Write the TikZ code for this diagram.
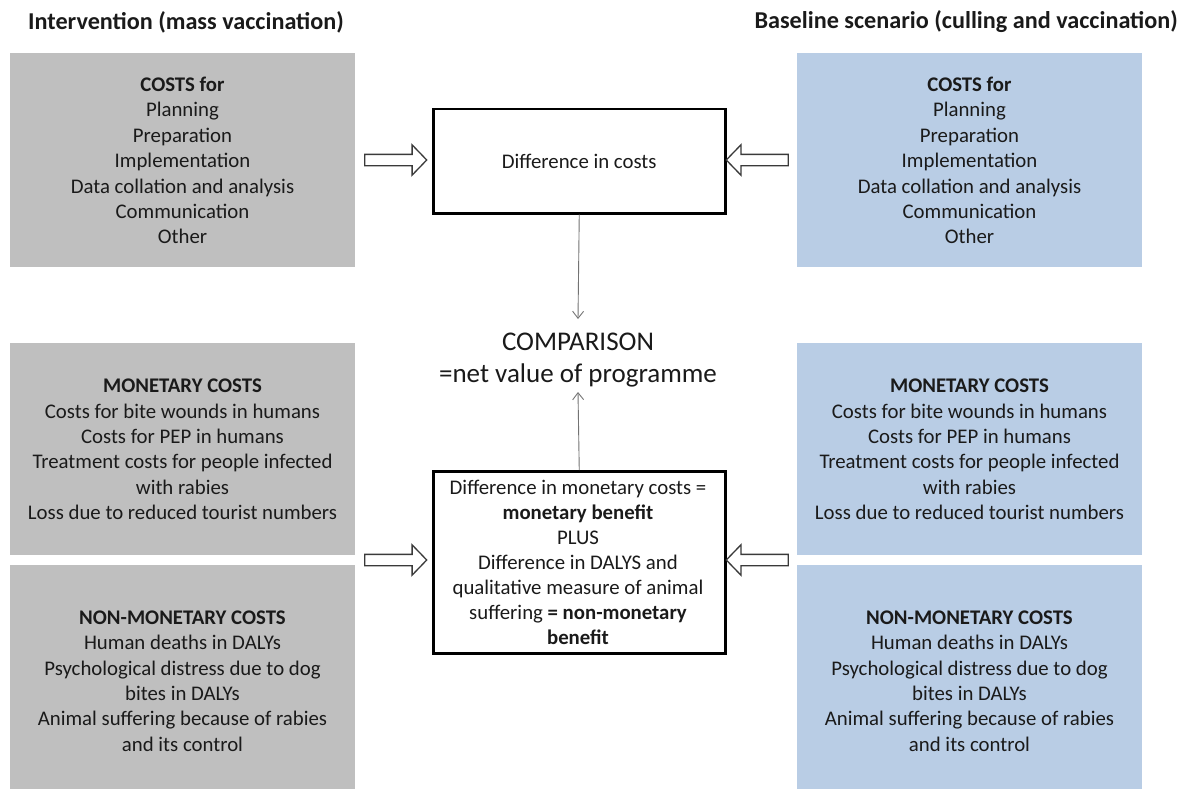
\documentclass[tikz,border=0pt]{standalone}
\usepackage{fontspec}
\setmainfont{Carlito}
\usetikzlibrary{shapes.arrows,arrows.meta}
\definecolor{boxgray}{HTML}{BFBFBF}
\definecolor{boxblue}{HTML}{B9CDE5}
\definecolor{txt}{HTML}{1A1A1A}
\definecolor{arrline}{HTML}{3A3A3A}
\begin{document}
\begin{tikzpicture}[x=1pt,y=-1pt,
  every node/.style={text=txt},
  base/.style={font=\fontsize{20.8}{25.4}\selectfont},
  sidebox/.style={minimum width=345pt,inner sep=0pt,anchor=north west},
  graybox/.style={sidebox,fill=boxgray},
  bluebox/.style={sidebox,fill=boxblue},
  boxtext/.style={base,align=center,inner sep=0pt},
  centerbox/.style={draw=black,line width=2.5pt,minimum width=292pt,inner sep=0pt,anchor=north west,fill=white},
  title/.style={font=\fontsize{24.2}{28}\selectfont\bfseries,inner sep=0pt},
  blockarr/.style={single arrow,draw=arrline,fill=white,line width=1.3pt,
     minimum height=62pt,minimum width=29pt,single arrow head extend=9.5pt,
     single arrow tip angle=92,inner xsep=0pt,inner ysep=5pt},
  thinarr/.style={draw=gray!90!black,line width=0.9pt,-{Straight Barb[length=7pt,width=11pt]}}
]
\useasboundingbox (0,0) rectangle (1188,789);
\fill[white] (0,0) rectangle (1188,789);

% titles
\node[title,anchor=west] (tl) at (28,22) {Intervention (mass vaccination)};
\node[title,anchor=east] (tr) at (1178,22) {Baseline scenario (culling and vaccination)};

% left boxes
\node[graybox,minimum height=214pt] (lt) at (10,53) {};
\node[graybox,minimum height=212pt] (lm) at (10,343) {};
\node[graybox,minimum height=224pt] (lb) at (10,565) {};
% right boxes
\node[bluebox,minimum height=214pt] (rt) at (797,53) {};
\node[bluebox,minimum height=212pt] (rm) at (797,343) {};
\node[bluebox,minimum height=224pt] (rb) at (797,565) {};

% texts
\node[boxtext] (ltt) at (182.5,160.5) {\textbf{COSTS for}\\Planning\\Preparation\\Implementation\\Data collation and analysis\\Communication\\Other};
\node[boxtext] (rtt) at (969.5,160.5) {\textbf{COSTS for}\\Planning\\Preparation\\Implementation\\Data collation and analysis\\Communication\\Other};
\node[boxtext] (lmt) at (182.5,449.5) {\textbf{MONETARY COSTS}\\Costs for bite wounds in humans\\Costs for PEP in humans\\Treatment costs for people infected\\with rabies\\Loss due to reduced tourist numbers};
\node[boxtext] (rmt) at (969.5,449.5) {\textbf{MONETARY COSTS}\\Costs for bite wounds in humans\\Costs for PEP in humans\\Treatment costs for people infected\\with rabies\\Loss due to reduced tourist numbers};
\node[boxtext] (lbt) at (182.5,681) {\textbf{NON-MONETARY COSTS}\\Human deaths in DALYs\\Psychological distress due to dog\\bites in DALYs\\Animal suffering because of rabies\\and its control};
\node[boxtext] (rbt) at (969.5,681) {\textbf{NON-MONETARY COSTS}\\Human deaths in DALYs\\Psychological distress due to dog\\bites in DALYs\\Animal suffering because of rabies\\and its control};

% center boxes
\node[centerbox,minimum height=104pt] (ct) at (432,108) {};
\node[boxtext] (ctt) at (ct.center) {Difference in costs};
\node[centerbox,minimum height=182pt] (cb) at (432,470) {};
\node[boxtext,font=\fontsize{20.8}{25}\selectfont] (cbt) at (578,562.5) {Difference in monetary costs =\\\textbf{monetary benefit}\\PLUS\\Difference in DALYS and\\qualitative measure of animal\\suffering \textbf{= non-monetary}\\\textbf{benefit}};

% comparison
\node[align=center,inner sep=0pt,font=\fontsize{27}{32}\selectfont] (cmp) at (578,360) {COMPARISON\\=net value of programme};

% thin arrows
\coordinate (cmptop) at (578,319);
\coordinate (cmpbot) at (578,392);
\draw[thinarr] (ct.south) -- (cmptop);
\draw[thinarr] (cb.north) -- (cmpbot);

% block arrows
\node[blockarr] (a1) at (393,160) {};
\node[blockarr] (a2) at (393,560) {};
\node[blockarr,shape border rotate=180] (a3) at (760,160) {};
\node[blockarr,shape border rotate=180] (a4) at (760,560) {};
\end{tikzpicture}
\end{document}
